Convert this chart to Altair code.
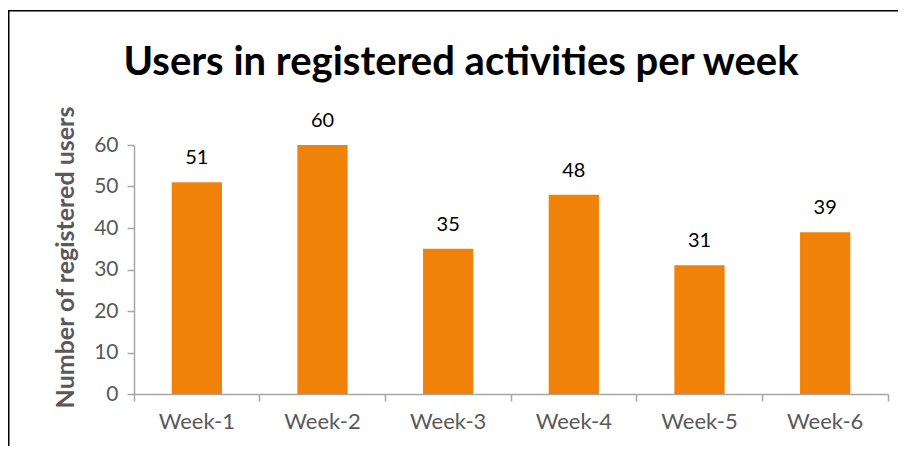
import altair as alt
import pandas as pd

weeks = ["Week-1", "Week-2", "Week-3", "Week-4", "Week-5", "Week-6"]
users = [51, 60, 35, 48, 31, 39]
y_ticks = [0, 10, 20, 30, 40, 50, 60]

df = pd.DataFrame({"week": weeks, "users": users})

FONT = "Lato"
GRAY = "#595959"
AXIS = "#a6a6a6"
ORANGE = "#F08209"

x = alt.X(
    "week:N",
    sort=weeks,
    scale=alt.Scale(paddingInner=0, paddingOuter=0),
    axis=alt.Axis(
        title=None,
        labelAngle=0,
        labelFont=FONT,
        labelFontSize=22,
        labelColor=GRAY,
        labelPadding=10,
        domainColor=AXIS,
        domainWidth=1.5,
        tickColor=AXIS,
        tickWidth=1.5,
        tickSize=7,
        bandPosition=1,
        tickExtra=True,
    ),
)
y = alt.Y(
    "users:Q",
    scale=alt.Scale(domain=[0, 60], nice=False),
    axis=alt.Axis(
        values=y_ticks,
        grid=False,
        title="Number of registered users",
        titleFont=FONT,
        titleFontSize=25,
        titleFontWeight="bold",
        titleColor=GRAY,
        titleX=-61,
        titleY=112,
        titleBaseline="alphabetic",
        titleAngle=-90,
        labelFont=FONT,
        labelFontSize=21,
        labelColor=GRAY,
        labelPadding=9,
        domainColor=AXIS,
        domainWidth=1.5,
        tickColor=AXIS,
        tickWidth=1.5,
        tickSize=7,
    ),
)

base = alt.Chart(df)
bars = base.mark_bar(color=ORANGE, width=alt.RelativeBandSize(0.4)).encode(x=x, y=y)
labels = base.mark_text(
    font=FONT, fontSize=20, color="#000000", baseline="alphabetic", dy=-18
).encode(x=x, y=y, text="users:Q")

frame_df = alt.Data(values=[{"k": 1}])
left_border = alt.Chart(frame_df).mark_rule(color="#000000", strokeWidth=1.5).encode(
    x=alt.value(-125.25), y=alt.value(-134.25), y2=alt.value(310)
)
top_border = alt.Chart(frame_df).mark_rule(color="#000000", strokeWidth=1.5).encode(
    x=alt.value(-126), x2=alt.value(770), y=alt.value(-134.25)
)

chart = (
    alt.layer(bars, labels, left_border, top_border)
    .properties(
        width=754,
        height=249,
        autosize=alt.AutoSizeParams(type="none"),
        padding={"left": 126, "top": 137, "right": 10, "bottom": 52},
        title=alt.TitleParams(
            "Users in registered activities per week",
            font=FONT,
            fontSize=40,
            fontWeight="bold",
            color="#000000",
            anchor="middle",
            baseline="alphabetic",
            dx=-50,
            offset=-105,
        ),
    )
    .configure_view(stroke=None)
)

chart.save("out.html", embed_options={"renderer": "svg", "actions": False})
